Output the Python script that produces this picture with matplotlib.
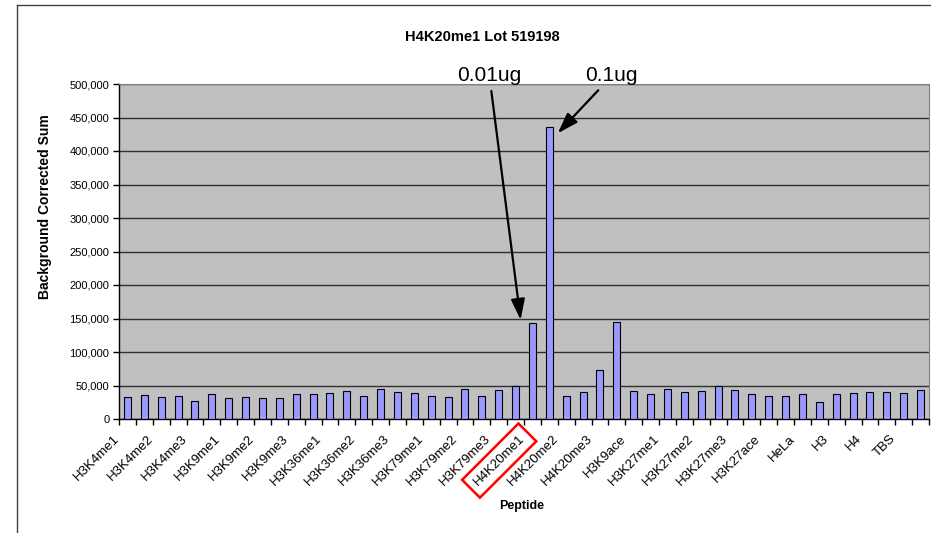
import matplotlib
matplotlib.use("Agg")
import matplotlib.pyplot as plt
import matplotlib.transforms as mtransforms
from matplotlib.lines import Line2D
from matplotlib.ticker import FuncFormatter, MultipleLocator
import numpy as np

plt.rcParams['font.family'] = ['Liberation Sans', 'DejaVu Sans']

# ---- data ----
peptides = ["H3K4me1", "H3K4me2", "H3K4me3", "H3K9me1", "H3K9me2", "H3K9me3",
            "H3K36me1", "H3K36me2", "H3K36me3", "H3K79me1", "H3K79me2", "H3K79me3",
            "H4K20me1", "H4K20me2", "H4K20me3", "H3K9ace", "H3K27me1", "H3K27me2",
            "H3K27me3", "H3K27ace", "HeLa", "H3", "H4", "TBS"]
dose_001ug = [32100, 32100, 27200, 30700, 30700, 37200, 38700, 33800, 40200, 33800,
              44600, 43200, 142900, 33800, 73800, 41700, 44600, 41700, 43200, 33800,
              37200, 37200, 40200, 38700]
dose_01ug = [35700, 33800, 37200, 32100, 30700, 37200, 41700, 44600, 38700, 32100,
             33800, 49600, 436500, 40200, 144300, 37200, 40200, 50000, 37200, 33800,
             25300, 38700, 40200, 43200]
title = "H4K20me1 Lot 519198"
ylabel = "Background Corrected Sum"
xlabel = "Peptide"
highlight = "H4K20me1"

# interleave: each peptide has two bars (0.01ug then 0.1ug)
values = []
for a, b in zip(dose_001ug, dose_01ug):
    values += [a, b]
n = len(values)
centers = np.arange(n) + 0.5

W, H = 931, 533
fig = plt.figure(figsize=(W / 100, H / 100), dpi=100)
fig.patch.set_facecolor('white')

# outer chart frame (left + top)
fig.add_artist(Line2D([17 / W, 17 / W], [0, 1 - 5 / H], transform=fig.transFigure,
                      color='#404040', lw=1))
fig.add_artist(Line2D([17 / W, 1], [1 - 5 / H, 1 - 5 / H], transform=fig.transFigure,
                      color='#404040', lw=1))

ax = fig.add_axes([119 / W, 1 - 419 / H, (929 - 119) / W, (419 - 84) / H])
ax.set_facecolor('#C0C0C0')

ax.bar(centers, values, width=0.42, color='#9999FF', edgecolor='black', linewidth=0.8,
       zorder=3)

ax.set_xlim(0, n)
ax.set_ylim(0, 500000)
ax.yaxis.set_major_locator(MultipleLocator(50000))
ax.yaxis.set_major_formatter(FuncFormatter(lambda v, p: f"{int(v):,}"))
ax.grid(axis='y', color='#303030', linewidth=1, zorder=1)
ax.set_axisbelow(True)

for s in ['top', 'right']:
    ax.spines[s].set_color('#808080')
for s in ['left', 'bottom']:
    ax.spines[s].set_color('black')
    ax.spines[s].set_linewidth(1)

ax.tick_params(axis='y', which='major', length=4, width=1, labelsize=8, pad=3,
               colors='black')

# x: tick marks at category boundaries, labels on every other category
ax.set_xticks(np.arange(n + 1))
ax.tick_params(axis='x', which='major', length=4, width=1, labelbottom=False)
ax.set_xticks(centers[::2], labels=peptides, minor=True)
ax.tick_params(axis='x', which='minor', length=0, pad=13, labelsize=9.5)
offset = mtransforms.ScaledTranslation(-7 / 72, 0, fig.dpi_scale_trans)
for lab in ax.get_xticklabels(minor=True):
    lab.set_rotation(45)
    lab.set_ha('right')
    lab.set_va('center')
    lab.set_rotation_mode('anchor')
    lab.set_transform(lab.get_transform() + offset)
    if lab.get_text() == highlight:
        lab.set_bbox(dict(boxstyle='square,pad=0.5', fc='none', ec='#FF0000', lw=1.8))

fig.text(482 / W, 1 - 37 / H, title, fontsize=10.5, fontweight='bold',
         ha='center', va='center')

ax.set_ylabel(ylabel, fontsize=10, fontweight='bold')
ax.yaxis.set_label_coords(-0.083, 0.633)
fig.text(522 / W, 1 - 506 / H, xlabel, fontsize=9, fontweight='bold',
         ha='center', va='center')

# annotations
i001 = peptides.index(highlight) * 2
i01 = i001 + 1
arrow = dict(arrowstyle='-|>,head_length=0.9,head_width=0.3', color='black', lw=1.6,
             mutation_scale=14, shrinkA=2, shrinkB=0)
ax.annotate("0.01ug", xy=(centers[i001] - 0.7, values[i001] + 5000),
            xytext=(21.95, 512000), ha='center', va='center', fontsize=15,
            arrowprops=arrow, annotation_clip=False, zorder=5)
ax.annotate("0.1ug", xy=(centers[i01] + 0.5, values[i01] - 10000),
            xytext=(29.2, 512000), ha='center', va='center', fontsize=15,
            arrowprops=arrow, annotation_clip=False, zorder=5)

fig.savefig("out.png", dpi=100)
